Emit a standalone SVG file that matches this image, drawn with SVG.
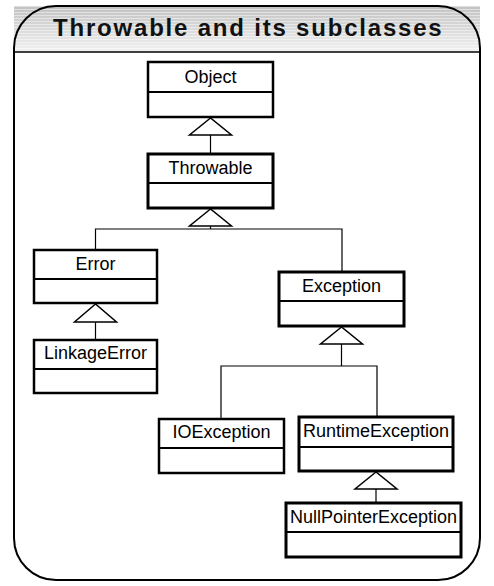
<svg xmlns="http://www.w3.org/2000/svg" width="494" height="586" viewBox="0 0 494 586">
<defs>
<linearGradient id="hdr" x1="0" y1="0" x2="0" y2="1">
<stop offset="0" stop-color="#c2c2c2"/>
<stop offset="1" stop-color="#f2f2f2"/>
</linearGradient>
<pattern id="stripes" x="0" y="6" width="8" height="3" patternUnits="userSpaceOnUse">
<rect x="0" y="0" width="8" height="1" fill="#ffffff" fill-opacity="0.45"/>
</pattern>
</defs>
<style>
.box{fill:#ffffff;stroke:#000000;stroke-width:2.5}
.thick{stroke-width:3}
.div{stroke:#000000;stroke-width:2}
.lbl{font-family:"Liberation Sans",Arial,sans-serif;font-size:18px;fill:#000000;text-anchor:middle}
.conn{fill:none;stroke:#000000;stroke-width:1.2}
.tri{fill:#ffffff;stroke:#000000;stroke-width:1.5}
.title{font-family:"Liberation Sans",Arial,sans-serif;font-size:24px;font-weight:bold;letter-spacing:1.8px;fill:#111111}
</style>
<g id="frame">
<rect x="14" y="6" width="466" height="46" fill="url(#hdr)"/>
<rect x="14" y="6" width="466" height="46" fill="url(#stripes)"/>
<line x1="14" y1="52" x2="480" y2="52" stroke="#000000" stroke-width="1.5"/>
<path d="M14,48 A42,42 0 0 1 56,6 L438,6 A42,42 0 0 1 480,48 L480,538 A42,42 0 0 1 438,580 L56,580 A42,42 0 0 1 14,538 Z" fill="none" stroke="#000000" stroke-width="2"/>
<text class="title" x="53" y="36">Throwable and its subclasses</text>
</g>
<g id="connectors">
<line class="conn" x1="210.5" y1="135" x2="210.5" y2="154"/>
<polygon class="tri" points="210.5,118 189.5,135 231.5,135"/>
<path class="conn" d="M210.5,226 V229 M95.5,250 V229 H342 V272"/>
<polygon class="tri" points="210.5,209 189.5,226 231.5,226"/>
<line class="conn" x1="95.5" y1="322" x2="95.5" y2="340"/>
<polygon class="tri" points="95.5,304 74.5,322 116.5,322"/>
<path class="conn" d="M341.5,344 V366 M221,419 V366 H377 V417"/>
<polygon class="tri" points="341.5,327 320.5,344 362.5,344"/>
<line class="conn" x1="376" y1="489" x2="376" y2="503"/>
<polygon class="tri" points="376,472 355,489 397,489"/>
</g>
<g id="object">
<rect class="box" x="148" y="62" width="125" height="55"/>
<line class="div" x1="148" y1="92" x2="273" y2="92"/>
<text class="lbl" x="210.5" y="83">Object</text>
</g>
<g id="throwable">
<rect class="box thick" x="148" y="154" width="125" height="54"/>
<line class="div" x1="148" y1="183" x2="273" y2="183"/>
<text class="lbl" x="210.5" y="174">Throwable</text>
</g>
<g id="error">
<rect class="box" x="34" y="250" width="123" height="53"/>
<line class="div" x1="34" y1="279" x2="157" y2="279"/>
<text class="lbl" x="95.5" y="270">Error</text>
</g>
<g id="linkageerror">
<rect class="box" x="34" y="340" width="123" height="53"/>
<line class="div" x1="34" y1="369" x2="157" y2="369"/>
<text class="lbl" x="95.5" y="359">LinkageError</text>
</g>
<g id="exception">
<rect class="box thick" x="279" y="272" width="125" height="54"/>
<line class="div" x1="279" y1="301" x2="404" y2="301"/>
<text class="lbl" x="341.5" y="292">Exception</text>
</g>
<g id="ioexception">
<rect class="box" x="159" y="419" width="125" height="54"/>
<line class="div" x1="159" y1="448" x2="284" y2="448"/>
<text class="lbl" x="221.5" y="438">IOException</text>
</g>
<g id="runtimeexception">
<rect class="box thick" x="299" y="417" width="154" height="54"/>
<line class="div" x1="299" y1="447" x2="453" y2="447"/>
<text class="lbl" x="376" y="437">RuntimeException</text>
</g>
<g id="nullpointerexception">
<rect class="box thick" x="286" y="503" width="175" height="54"/>
<line class="div" x1="286" y1="532" x2="461" y2="532"/>
<text class="lbl" x="373.5" y="523">NullPointerException</text>
</g>
</svg>
